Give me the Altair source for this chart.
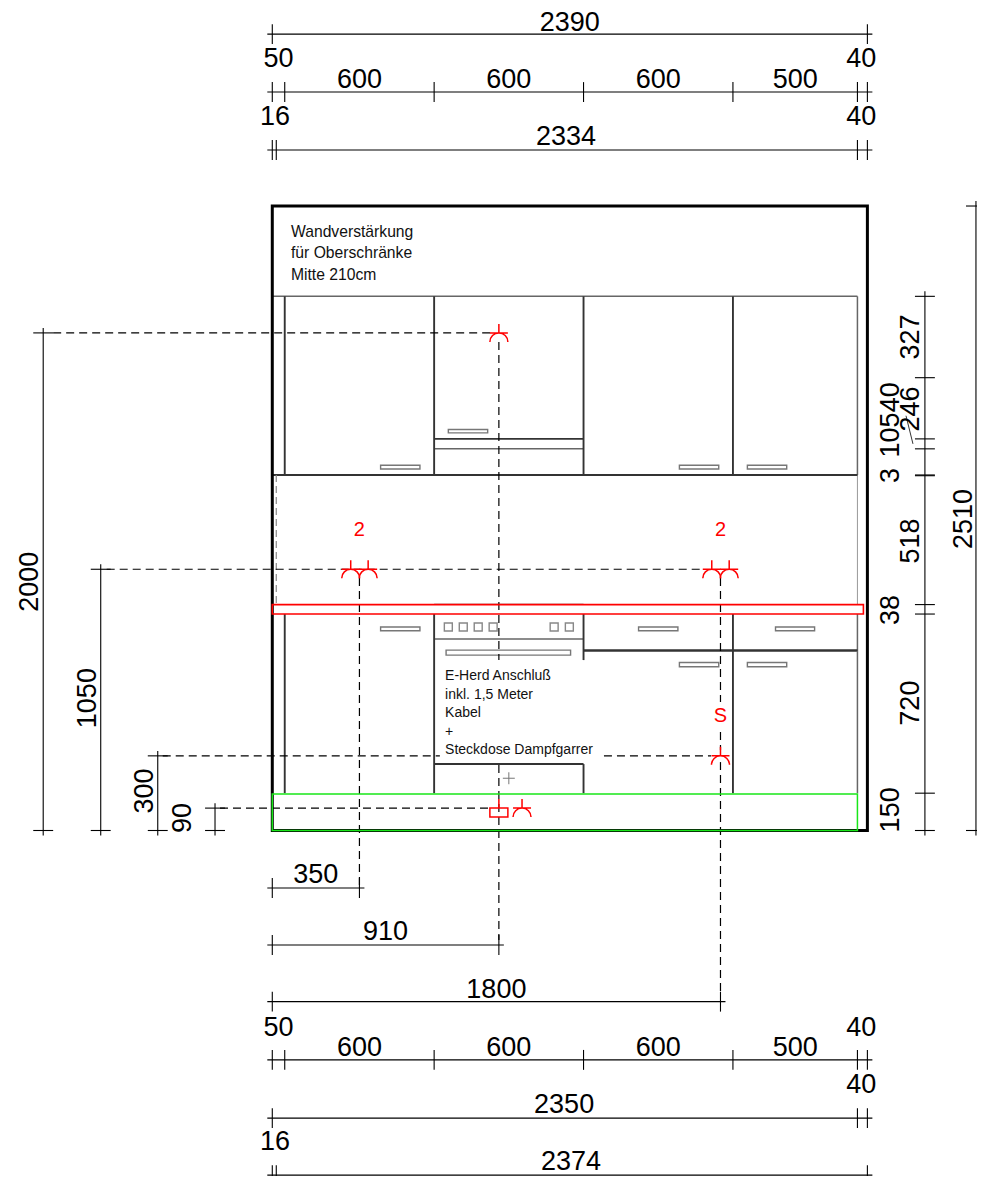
import altair as alt
import pandas as pd

# ---- Drawing units are millimetres measured from the lower-left wall corner ----
X_DOMAIN = [-1061.4, 2830.2]
Y_DOMAIN = [-1388.7, 3305.9]

TICK = 40
OVER = 20

# Horizontal dimension chains: (level, tick positions)
h_chains = [
    (3201, [0, 2390]),
    (2968, [0, 50, 650, 1250, 1850, 2350, 2390]),
    (2735, [0, 16, 2350, 2390]),
    (-231, [0, 350]),
    (-460, [0, 910]),
    (-688, [0, 1800]),
    (-922, [0, 50, 650, 1250, 1850, 2350, 2390]),
    (-1156, [0, 2350, 2390]),
    (-1385, [0, 16, 2390]),
]
# Vertical dimension chains: (level, tick positions)
v_chains = [
    (-920, [0, 2000]),
    (-689, [0, 1050]),
    (-460, [0, 300]),
    (-230, [0, 90]),
    (2621, [0, 150, 870, 908, 1426, 1429, 1534, 1574, 1820, 2147]),
    (2826, [0, 2510]),
]

# Dimension labels
h_label_text = ["2390", "50", "40", "600", "600", "600", "500", "16", "40", "2334",
                "350", "910", "1800", "50", "40", "600", "600", "600", "500", "40", "2350", "16", "2374"]
h_label_x = [1195, 25, 2365, 350, 950, 1550, 2100, 11, 2365, 1180,
             175, 455, 900, 25, 2365, 350, 950, 1550, 2100, 2365, 1172, 11, 1200]
h_label_y = [3246, 3100, 3100, 3018, 3018, 3018, 3018, 2867, 2867, 2789,
             -177, -406, -642, -794, -794, -876, -876, -876, -876, -1024, -1102, -1253, -1331]

v_label_text = ["2000", "1050", "300", "90", "2510", "327", "246", "40", "105", "3", "518", "38", "720", "150"]
v_label_x = [-973, -740, -511, -360, 2778, 2566, 2566, 2485, 2485, 2485, 2566, 2485, 2566, 2485]
v_label_y = [1000, 532, 159, 50, 1252, 1984, 1694, 1741, 1590, 1427, 1164, 886, 512, 83]

# Notes
note1_text = ["Wandverstärkung", "für Oberschränke", "Mitte 210cm"]
note1_y = [2406, 2321, 2233]
note2_text = ["E-Herd Anschluß", "inkl. 1,5 Meter", "Kabel", "+", "Steckdose Dampfgarrer"]
note2_y = [619, 543, 471, 394, 322]

red_text = ["2", "2", "S"]
red_x = [350, 1800, 1800]
red_y = [1208, 1208, 462]

# Cabinet lines (x1, y1, x2, y2)
dark_lines = [
    (50, 2147, 50, 1429), (650, 2147, 650, 1429), (1250, 2147, 1250, 1429), (1850, 2147, 1850, 1429),
    (0, 1429, 2350, 1429), (650, 1574, 1250, 1574),
    (50, 870, 50, 150), (650, 870, 650, 150), (1250, 870, 1250, 685), (1250, 267, 1250, 150),
    (1850, 870, 1850, 150), (650, 267, 1250, 267), (1250, 725, 2350, 725),
]
mid_lines = [
    (0, 2147, 2350, 2147), (2350, 2147, 2350, 1429), (650, 1534, 1250, 1534), (650, 770, 1250, 770),
    (2350, 870, 2350, 150), (1250, 720, 2350, 720),
]
thin_lines = [(2350, 1429, 2350, 908), (650, 910, 1250, 910)]
plus_lines = [(926, 210, 974, 210), (950, 186, 950, 234)]
leader_lines = [(2573, 1554, 2545, 1667)]

# Dashed services
dash_lines = [
    (-880, 2000, 875, 2000), (-665, 1050, 1729, 1050), (-440, 300, 673, 300), (1332, 300, 1762, 300),
    (-210, 90, 875, 90),
    (350, 1015, 350, -220), (910, 1963, 910, 685), (910, 263, 910, -440),
    (1800, 1015, 1800, 516), (1800, 396, 1800, 324), (1800, 275, 1800, -665),
]
gray_dash_lines = [(16, 1429, 16, 908)]

# Outlined boxes (x1, y1, x2, y2)
wall_box = [(0, 0, 2390, 2510)]
handles = [
    (707, 1612, 865, 1598), (435, 1468, 593, 1453), (1635, 1468, 1793, 1453), (1908, 1468, 2066, 1453),
    (435, 818, 593, 803), (1471, 818, 1629, 803), (2021, 818, 2178, 803),
    (1635, 675, 1793, 658), (1908, 675, 2066, 658), (698, 725, 1198, 705),
]
knobs = [
    (691, 834, 723, 802), (751, 834, 783, 802), (811, 834, 843, 802), (871, 834, 903, 802),
    (1116, 834, 1148, 802), (1177, 834, 1209, 802),
]
worktop_box = [(0, 870, 2374, 908)]
plinth_box = [(0, 0, 2350, 147)]

# Electrical symbols
socket_x = [315, 385, 1765, 1835, 910, 1800, 1003]
socket_y = [1050, 1050, 1050, 1050, 2000, 300, 90]
box_symbol_x = [910]
box_symbol_y = [90]

SOCKET_PATH = "M-1,0H1M0,0V-1M-1,1A1,1 0 0 1 1,1"
BOX_PATH = "M-1,0H1V1H-1ZM0,0V-1"

FONT = "Liberation Sans"

xs = alt.Scale(domain=X_DOMAIN, nice=False, zero=False)
ys = alt.Scale(domain=Y_DOMAIN, nice=False, zero=False)
X = lambda f: alt.X(f, type="quantitative", scale=xs, axis=None)
Y = lambda f: alt.Y(f, type="quantitative", scale=ys, axis=None)
X2 = lambda f: alt.X2(f)
Y2 = lambda f: alt.Y2(f)


def lines(rows, **mark):
    df = pd.DataFrame(rows, columns=["a", "b", "c", "d"])
    return alt.Chart(df).mark_rule(**mark).encode(x=X("a"), y=Y("b"), x2=X2("c"), y2=Y2("d"))


def boxes(rows, **mark):
    df = pd.DataFrame(rows, columns=["a", "b", "c", "d"])
    return alt.Chart(df).mark_rect(**mark).encode(x=X("a"), y=Y("b"), x2=X2("c"), y2=Y2("d"))


def texts(t, x, y, **mark):
    df = pd.DataFrame({"t": t, "x": x, "y": y})
    return alt.Chart(df).mark_text(font=FONT, **mark).encode(x=X("x"), y=Y("y"), text="t:N")


def symbols(x, y, path, size):
    df = pd.DataFrame({"x": x, "y": y})
    return alt.Chart(df).mark_point(shape=path, size=size, filled=False, stroke="#ff0000",
                                    strokeWidth=1.5, opacity=1).encode(x=X("x"), y=Y("y"))


dim_rows = []
for level, ticks in h_chains:
    dim_rows.append((min(ticks) - OVER, level, max(ticks) + OVER, level))
    for t in ticks:
        dim_rows.append((t, level - TICK, t, level + TICK))
for level, ticks in v_chains:
    dim_rows.append((level, min(ticks) - OVER, level, max(ticks) + OVER))
    for t in ticks:
        dim_rows.append((level - TICK, t, level + TICK, t))

layers = [
    boxes(handles, filled=False, stroke="#777777", strokeWidth=1.4),
    boxes(knobs, filled=False, stroke="#888888", strokeWidth=1.4),
    lines(thin_lines, stroke="#999999", strokeWidth=1),
    lines(mid_lines, stroke="#666666", strokeWidth=1.5),
    lines(dark_lines, stroke="#333333", strokeWidth=1.9),
    lines(plus_lines, stroke="#777777", strokeWidth=1),
    lines(gray_dash_lines, stroke="#888888", strokeWidth=1.2, strokeDash=[7, 4]),
    lines(dash_lines, stroke="#000000", strokeWidth=1.2, strokeDash=[8, 5]),
    boxes(wall_box, filled=False, stroke="#000000", strokeWidth=3),
    boxes(worktop_box, filled=False, stroke="#ff0000", strokeWidth=1.6),
    boxes(plinth_box, filled=False, stroke="#19e619", strokeWidth=1.5),
    lines(dim_rows, stroke="#000000", strokeWidth=1.1),
    lines(leader_lines, stroke="#000000", strokeWidth=0.8),
    symbols(socket_x, socket_y, SOCKET_PATH, 324),
    symbols(box_symbol_x, box_symbol_y, BOX_PATH, 324),
    texts(h_label_text, h_label_x, h_label_y, fontSize=27, align="center", baseline="middle", color="#000000"),
    texts(v_label_text, v_label_x, v_label_y, fontSize=27, align="center", baseline="middle", angle=270, color="#000000"),
    texts(note1_text, [75] * len(note1_text), note1_y, fontSize=15.7, align="left", baseline="middle", color="#111111"),
    texts(note2_text, [694] * len(note2_text), note2_y, fontSize=14, align="left", baseline="middle", color="#111111"),
    texts(red_text, red_x, red_y, fontSize=20, align="center", baseline="middle", color="#ff0000"),
]

chart = (
    alt.layer(*layers)
    .properties(width=969, height=1168, padding=0, autosize=alt.AutoSizeParams(type="none"))
    .configure_view(stroke=None)
)

chart.save("out.html", embed_options={"renderer": "svg", "actions": False})
